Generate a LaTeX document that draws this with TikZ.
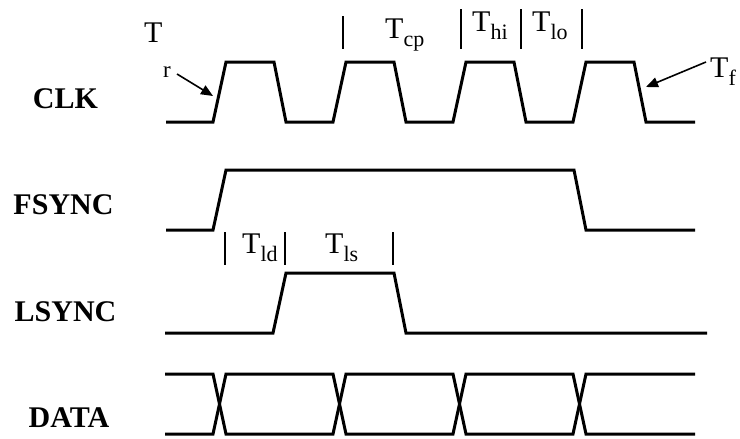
\documentclass[tikz,border=0pt]{standalone}
\usepackage{fontspec}
\setmainfont{Liberation Serif}
\usetikzlibrary{arrows.meta}
\newcommand\tsubx[1]{\raisebox{-8pt}{\fontsize{22}{22}\selectfont #1}}
\begin{document}
\begin{tikzpicture}[x=1pt,y=-1pt,
  sig/.style={line width=3pt, line join=miter},
  tickbar/.style={line width=1.5pt},
  lbl/.style={font=\fontsize{30}{30}\selectfont\bfseries, anchor=base, inner sep=0pt},
  tlab/.style={font=\fontsize{30}{30}\selectfont, anchor=base west, inner sep=0pt},
  ptr/.style={line width=1.6pt, -{Triangle[length=12pt,width=10pt]}}]
\useasboundingbox[fill=white] (0,0) rectangle (740,439);

% signal names
\node[lbl] (clk)   at (65.5,108) {CLK};
\node[lbl] (fsync) at (63.5,214) {FSYNC};
\node[lbl] (lsync) at (65.5,321) {LSYNC};
\node[lbl] (data)  at (69,427)  {DATA};

% CLK
\draw[sig] (166,122) -- (213,122) -- (226,62) -- (274,62) -- (286,122)
  -- (333,122) -- (346,62) -- (394,62) -- (406,122)
  -- (453,122) -- (466,62) -- (514,62) -- (526,122)
  -- (573,122) -- (586,62) -- (634,62) -- (646,122) -- (695,122);

% FSYNC
\draw[sig] (166,230) -- (213,230) -- (226,170) -- (574,170) -- (586,230) -- (695,230);

% LSYNC
\draw[sig] (165,333) -- (273,333) -- (286,273) -- (394,273) -- (406,333) -- (707,333);

% DATA
\draw[sig] (165,374) -- (213,374) -- (226,434) -- (333,434) -- (346,374)
  -- (453,374) -- (466,434) -- (573,434) -- (586,374) -- (695,374);
\draw[sig] (165,434) -- (213,434) -- (226,374) -- (333,374) -- (346,434)
  -- (453,434) -- (466,374) -- (573,374) -- (586,434) -- (695,434);

% timing labels
\node[tlab] (tr) at (144,42) {T};
\node[tlab, font=\fontsize{23}{23}\selectfont] (trsub) at (163,77) {r};
\coordinate (trs) at (177,74);
\coordinate (tre) at (213,96);
\draw[ptr] (trs) -- (tre);

\node[tlab] (tcp) at (385,38) {T\tsubx{cp}};
\node[tlab] (thi) at (472,31) {T\tsubx{hi}};
\node[tlab] (tlo) at (532,31) {T\tsubx{lo}};
\draw[tickbar] (343,16) -- (343,49);
\draw[tickbar] (461,9) -- (461,49);
\draw[tickbar] (521,9) -- (521,49);
\draw[tickbar] (582,9) -- (582,49);

\node[tlab] (tf) at (710,77) {T\tsubx{f}};
\coordinate (tfs) at (706,62);
\coordinate (tfe) at (646,87);
\draw[ptr] (tfs) -- (tfe);

\node[tlab] (tld) at (242,253) {T\tsubx{ld}};
\node[tlab] (tls) at (325,253) {T\tsubx{ls}};
\draw[tickbar] (225,232) -- (225,265);
\draw[tickbar] (285,232) -- (285,265);
\draw[tickbar] (393,232) -- (393,265);
\end{tikzpicture}
\end{document}
